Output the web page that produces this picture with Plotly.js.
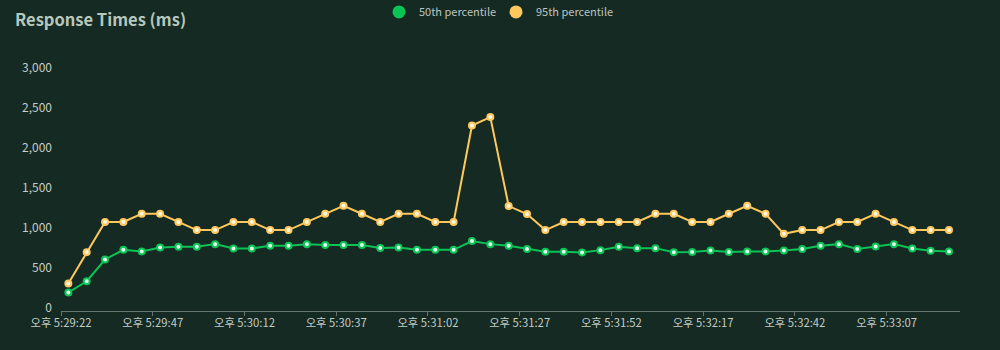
<!DOCTYPE html>
<html>
<head>
<meta charset="utf-8">
<script src="https://cdn.plot.ly/plotly-3.0.1.min.js"></script>
<style>
html,body{margin:0;padding:0;background:#152a22;}
#chart{width:1000px;height:350px;}
</style>
</head>
<body>
<div id="chart"></div>
<script>
// sample times (HH:MM:SS, 24h)
const times = [
"17:29:24","17:29:29","17:29:34","17:29:39","17:29:44","17:29:49","17:29:54","17:29:59",
"17:30:04","17:30:09","17:30:14","17:30:19","17:30:24","17:30:29","17:30:34","17:30:39",
"17:30:44","17:30:49","17:30:54","17:30:59","17:31:04","17:31:09","17:31:14","17:31:19",
"17:31:24","17:31:29","17:31:34","17:31:39","17:31:44","17:31:49","17:31:54","17:31:59",
"17:32:04","17:32:09","17:32:14","17:32:19","17:32:24","17:32:29","17:32:34","17:32:39",
"17:32:44","17:32:49","17:32:54","17:32:59","17:33:04","17:33:09","17:33:14","17:33:19",
"17:33:24"
];
const p50 = [
193,334,606,727,707,757,765,765,798,744,744,777,777,798,786,786,
786,750,757,727,727,727,836,798,777,736,702,702,694,723,765,748,
748,698,700,719,700,707,707,719,736,777,798,736,769,798,744,714,
707
];
const p95 = [
306,698,1075,1075,1178,1178,1075,974,974,1075,1075,974,974,1075,1178,1278,
1178,1075,1178,1178,1075,1075,2281,2386,1274,1174,974,1075,1075,1075,1075,1075,
1178,1178,1075,1075,1178,1278,1178,927,974,974,1075,1075,1178,1075,974,974,
974
];
const tickTimes = ["17:29:22","17:29:47","17:30:12","17:30:37","17:31:02","17:31:27","17:31:52","17:32:17","17:32:42","17:33:07"];
const tickLabels = ["오후 5:29:22","오후 5:29:47","오후 5:30:12","오후 5:30:37","오후 5:31:02","오후 5:31:27","오후 5:31:52","오후 5:32:17","오후 5:32:42","오후 5:33:07"];
const yTicks = [0,500,1000,1500,2000,2500,3000];
const xRange = ["17:29:22","17:33:27"];
const seriesNames = ["50th percentile","95th percentile"];

const day = "2024-01-01 ";
const X = times.map(t => day + t);
const GREEN = "#0ac456", YELLOW = "#ffc85c";
const FONT = '"Noto Sans CJK KR", "Noto Sans", sans-serif';

function lineTrace(y, name, col, inner){
  return {x: X, y: y, name: name, type: "scatter", mode: "lines+markers",
    showlegend: false, hoverinfo: "skip",
    line: {color: col, width: 2},
    marker: {size: 6, color: inner, line: {color: col, width: 2}}};
}
function legendTrace(name, col){
  return {x: [null], y: [null], name: name, type: "scatter", mode: "markers",
    marker: {size: 13, color: col}, hoverinfo: "skip"};
}

const data = [
  lineTrace(p50, seriesNames[0], GREEN, "#e6fbef"),
  lineTrace(p95, seriesNames[1], YELLOW, "#fff8e6"),
  legendTrace(seriesNames[0], GREEN),
  legendTrace(seriesNames[1], YELLOW)
];

const layout = {
  width: 1000, height: 350,
  paper_bgcolor: "#152a22", plot_bgcolor: "#152a22",
  margin: {l: 61, r: 40, t: 68, b: 39},
  font: {family: FONT, color: "#c3ccc7", size: 11},
  title: {text: "Response Times (ms)", x: 0.015, xanchor: "left", y: 0.943, yanchor: "middle",
    font: {family: FONT, size: 16.5, color: "#b7c7bb", weight: 700}},
  legend: {orientation: "h", xref: "container", yref: "container", x: 0.496, xanchor: "center",
    y: 0.966, yanchor: "middle", font: {family: FONT, size: 11, color: "#bcc4c0"},
    entrywidth: 72, entrywidthmode: "pixels",
    bgcolor: "rgba(0,0,0,0)", itemclick: false},
  xaxis: {type: "date", range: xRange.map(t => day + t),
    tickvals: tickTimes.map(t => day + t), ticktext: tickLabels,
    showgrid: false, zeroline: false, showline: true, linecolor: "#66756d", linewidth: 1,
    ticks: "outside", ticklen: 4, tickcolor: "#66756d", tickwidth: 1,
    ticklabelstandoff: -3,
    tickfont: {family: FONT, size: 11.3, color: "#c3ccc7"}},
  yaxis: {range: [-38, 3000], tickvals: yTicks, tickformat: ",d",
    showgrid: false, zeroline: false, showline: false, ticks: "",
    ticklabelstandoff: 8,
    tickfont: {family: FONT, size: 12, color: "#c3ccc7"}}
};

Plotly.newPlot("chart", data, layout, {displayModeBar: false, staticPlot: true});
</script>
</body>
</html>
